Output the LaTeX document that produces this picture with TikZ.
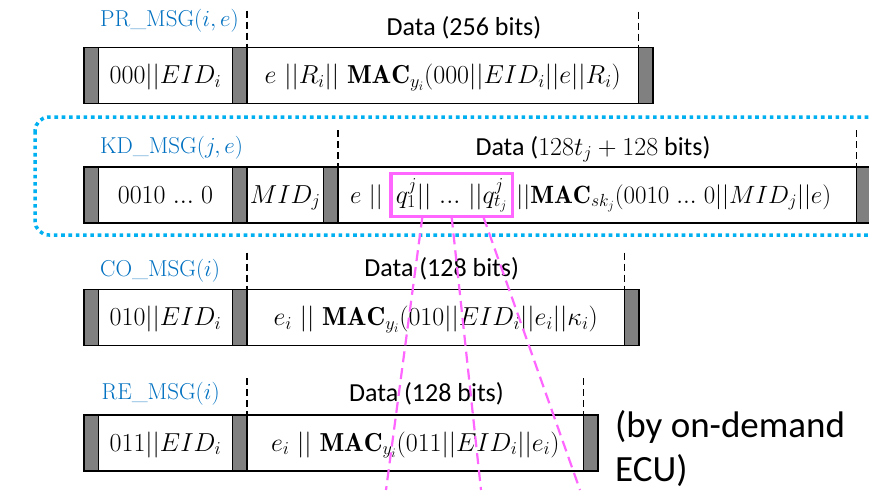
\RequirePackage{fix-cm}
\documentclass[tikz,border=0pt]{standalone}
\usepackage{fontspec}
\newfontfamily\calfont{Carlito}
\usetikzlibrary{calc}

\definecolor{barGray}{RGB}{128,128,128}
\definecolor{labelBlue}{RGB}{0,112,192}
\definecolor{frameCyan}{RGB}{0,176,240}
\definecolor{hlPink}{RGB}{255,102,255}

\newcommand\fieldsize{\fontsize{26}{31}\selectfont}
\newcommand\keysize{\fontsize{25}{30}\selectfont}
\newcommand\labelsize{\fontsize{23}{28}\selectfont}
\newcommand\datasize{\fontsize{26}{31}\selectfont}
% compact three-dot ellipsis
\newcommand\tdots{{.}{.}{.}}

\tikzset{
  cell/.style={draw=black, line width=1.6pt, rectangle, inner sep=0pt, outer sep=0pt,
    minimum height=56pt, anchor=north west, text height=16pt, text depth=0pt, font=\fieldsize},
  gbar/.style={cell, fill=barGray, minimum width=14.5pt},
  inline/.style={inner sep=0pt, outer sep=0pt, anchor=base west, font=\keysize},
  hlbox/.style={draw=hlPink, line width=3.5pt, rectangle, inner xsep=5pt, inner ysep=0pt,
    outer sep=0pt, minimum height=43pt, text height=16pt, text depth=0pt, font=\fieldsize,
    anchor=base west},
  msglabel/.style={anchor=base west, inner sep=0pt, text=labelBlue, font=\labelsize},
  datalabel/.style={anchor=base, inner sep=0pt, font=\calfont\datasize},
  sepline/.style={draw=black, line width=1.6pt, dash pattern=on 7pt off 4pt},
  pinkline/.style={draw=hlPink, line width=2.2pt, dash pattern=on 11pt off 6pt},
  groupframe/.style={draw=frameCyan, line width=3.5pt, dash pattern=on 3.6pt off 3.7pt,
    rounded corners=14pt}
}

\begin{document}
\begin{tikzpicture}[x=1pt, y=-1pt]
  \useasboundingbox (0,0) rectangle (869,490);

  % ---- PR_MSG ----
  \node[msglabel] (prlbl) at (100,26) {PR\_MSG$(i,e)$};
  \node[gbar] (p0) at (84,47.5) {};
  \node[cell, minimum width=134pt] (p1) at (p0.north east) {$000||EID_i$};
  \node[gbar] (p2) at (p1.north east) {};
  \node[cell, minimum width=391.5pt] (p3) at (p2.north east)
    {$e\ ||R_i||\ \mathbf{MAC}_{y_i}(000||EID_i||e||R_i)$};
  \node[gbar] (p4) at (p3.north east) {};
  \node[datalabel] (pdata) at (464,35) {Data (256 bits)};
  \draw[sepline] ($(p3.north west)+(0,-37)$) coordinate (ps1) -- (p3.north west);
  \draw[sepline] ($(p3.north east)+(0,-36)$) coordinate (ps2) -- (p3.north east);

  % ---- KD_MSG (grouped) ----
  \draw[groupframe] (35,117) rectangle (890,235);
  \node[msglabel] (kdlbl) at (100,153) {KD\_MSG$(j,e)$};
  \node[gbar] (k0) at (84,167) {};
  \node[cell, minimum width=134pt] (k1) at (k0.north east) {$0010\;\tdots\;0$};
  \node[gbar] (k2) at (k1.north east) {};
  \node[cell, minimum width=76.5pt] (k3) at (k2.north east) {$MID_j$};
  \node[gbar] (k4) at (k3.north east) {};
  \node[cell, minimum width=518.5pt] (k5) at (k4.north east) {};
  \node[gbar] (k6) at (k5.north east) {};
  \node[inline] (kt1) at ($(k5.west)+(12,8)$) {$e\ ||$};
  \node[hlbox] (kq) at ($(kt1.base east)+(8,0)$) {$q_1^j||\ \tdots\ ||q_{t_j}^j$};
  \node[inline] (kt2) at ($(kq.base east)+(4,0)$)
    {$||\mathbf{MAC}_{sk_j}(0010\;\tdots\;0||MID_j||e)$};
  \node[datalabel] (kdata) at (593,155) {Data ($128t_j+128$ bits)};
  \draw[sepline] ($(k5.north west)+(0,-37)$) coordinate (ks1) -- (k5.north west);
  \draw[sepline] ($(k5.north east)+(0,-37)$) coordinate (ks2) -- (k5.north east);

  % ---- CO_MSG ----
  \node[msglabel] (colbl) at (100,276) {CO\_MSG$(i)$};
  \node[gbar] (c0) at (84,289.5) {};
  \node[cell, minimum width=134pt] (c1) at (c0.north east) {$010||EID_i$};
  \node[gbar] (c2) at (c1.north east) {};
  \node[cell, minimum width=377.5pt] (c3) at (c2.north east)
    {$e_i\ ||\ \mathbf{MAC}_{y_i}(010||EID_i||e_i||\kappa_i)$};
  \node[gbar] (c4) at (c3.north east) {};
  \node[datalabel] (cdata) at (441.7,276.7) {Data (128 bits)};
  \draw[sepline] ($(c3.north west)+(0,-37)$) coordinate (cs1) -- (c3.north west);
  \draw[sepline] ($(c3.north east)+(0,-37)$) coordinate (cs2) -- (c3.north east);

  % ---- RE_MSG ----
  \node[msglabel] (relbl) at (101.5,399.3) {RE\_MSG$(i)$};
  \node[gbar] (r0) at (84,415) {};
  \node[cell, minimum width=134pt] (r1) at (r0.north east) {$011||EID_i$};
  \node[gbar] (r2) at (r1.north east) {};
  \node[cell, minimum width=336.5pt] (r3) at (r2.north east)
    {$e_i\ ||\ \mathbf{MAC}_{y_i}(011||EID_i||e_i)$};
  \node[gbar] (r4) at (r3.north east) {};
  \node[datalabel] (rdata) at (426.5,401.7) {Data (128 bits)};
  \draw[sepline] ($(r3.north west)+(0,-37)$) coordinate (rs1) -- (r3.north west);
  \draw[sepline] ($(r3.north east)+(0,-37)$) coordinate (rs2) -- (r3.north east);
  \node[anchor=base west, inner sep=0pt, align=left, font=\calfont\fontsize{37}{44}\selectfont]
    (ondemand) at (615,481.7) {(by on-demand\\ECU)};

  % ---- key fragments fanning out ----
  \coordinate (f1) at (386,490);
  \coordinate (f2) at (481,490);
  \coordinate (f3) at (580,490);
  \draw[pinkline] ($(kq.south west)!0.26!(kq.south east)$) -- (f1);
  \draw[pinkline] ($(kq.south west)!0.50!(kq.south east)$) -- (f2);
  \draw[pinkline] ($(kq.south west)!0.76!(kq.south east)$) -- (f3);
\end{tikzpicture}
\end{document}
